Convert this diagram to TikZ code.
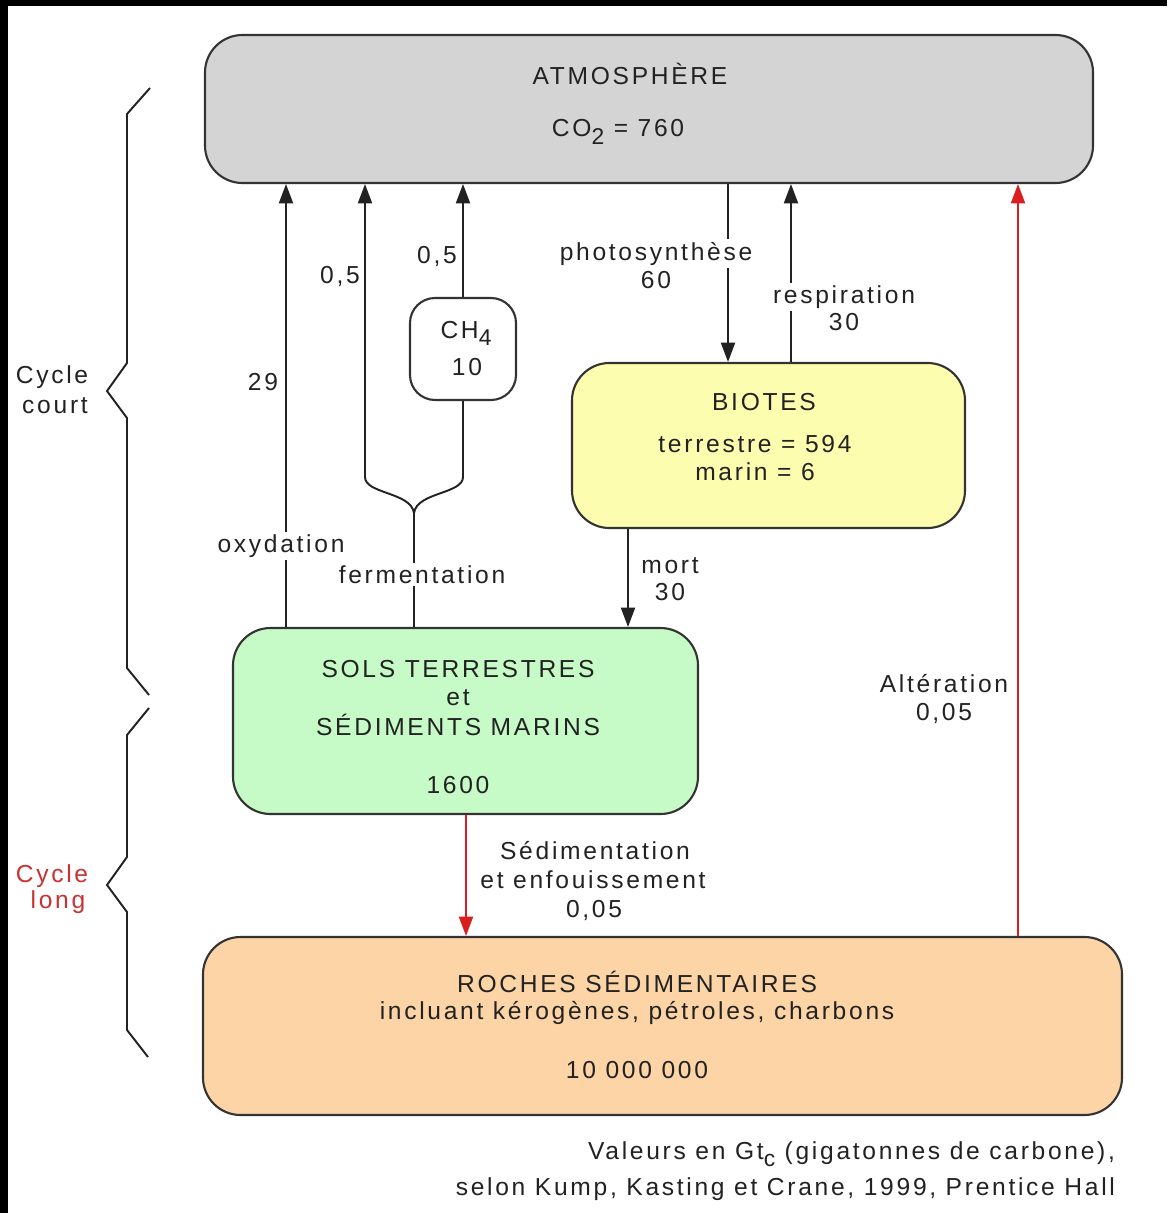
\documentclass[tikz,border=0pt]{standalone}
\usepackage{fontspec}
\setmainfont{Liberation Sans}[LetterSpace=11]
\usetikzlibrary{arrows.meta}

\definecolor{ink}{HTML}{222222}
\definecolor{edge}{HTML}{333333}
\definecolor{atmfill}{HTML}{D4D4D4}
\definecolor{biofill}{HTML}{FDFDB0}
\definecolor{solfill}{HTML}{C6FAC6}
\definecolor{rocfill}{HTML}{FCD4A6}
\definecolor{longred}{HTML}{D81E1E}
\definecolor{labred}{HTML}{C83232}

\newcommand\txtsize{\fontsize{14}{16}\selectfont}
\newcommand\lowsub[1]{\raisebox{-0.6ex}{\fontsize{13}{14}\selectfont #1}}

\begin{document}
\begin{tikzpicture}[x=0.02cm, y=-0.02cm,
  reservoir/.style={draw=edge, line width=1.2pt, rounded corners=0.75cm, inner sep=0pt},
  flow/.style={draw=ink, line width=1.1pt},
  redflow/.style={draw=longred, line width=1.1pt},
  tip/.style={-{Triangle[length=11pt,width=8pt]}},
  lbl/.style={anchor=base, fill=white, inner sep=1.5pt, text=ink, font=\txtsize},
  inbox/.style={anchor=base, inner sep=0pt, text=ink, font=\txtsize},
  bracket/.style={draw=ink, line width=1.1pt, line join=miter}]

% canvas and dark frame edges
\useasboundingbox (0,0) rectangle (1167,1213);
\fill[white] (0,0) rectangle (1167,1213);
\fill[black] (0,0) rectangle (1167,6);
\fill[black] (0,0) rectangle (8,1213);

% reservoirs
\node[reservoir, fill=atmfill, minimum width=888*0.02cm, minimum height=148*0.02cm] (atm) at (649,109) {};
\node[reservoir, fill=white, rounded corners=0.5cm, minimum width=106*0.02cm, minimum height=102*0.02cm] (ch4) at (463,349) {};
\node[reservoir, fill=biofill, minimum width=393*0.02cm, minimum height=165*0.02cm] (bio) at (768.5,445.5) {};
\node[reservoir, fill=solfill, minimum width=465*0.02cm, minimum height=186*0.02cm] (sols) at (465.5,721) {};
\node[reservoir, fill=rocfill, minimum width=919*0.02cm, minimum height=178*0.02cm] (roch) at (662.5,1026) {};

% columns of the fluxes
\coordinate (xox) at (286,0);
\coordinate (xfe) at (414,0);
\coordinate (xph) at (728,0);
\coordinate (xre) at (791,0);
\coordinate (xmo) at (628,0);
\coordinate (xse) at (466,0);
\coordinate (xal) at (1018,0);
\coordinate (fork) at (414,513);
\coordinate (forkL) at (365,477);
\coordinate (forkR) at (463,477);

% short cycle fluxes
\draw[flow, tip] (sols.north -| xox) -- (atm.south -| xox);
\draw[flow] (sols.north -| xfe) -- (fork);
\draw[flow, tip] (fork) .. controls (411,492) and (365,494) .. (forkL) -- (atm.south -| forkL);
\draw[flow] (fork) .. controls (417,492) and (463,494) .. (forkR) -- (ch4.south);
\draw[flow, tip] (ch4.north) -- (atm.south -| ch4.north);
\draw[flow, tip] (atm.south -| xph) -- (bio.north -| xph);
\draw[flow, tip] (bio.north -| xre) -- (atm.south -| xre);
\draw[flow, tip] (bio.south -| xmo) -- (sols.north -| xmo);

% long cycle fluxes
\draw[redflow, tip] (sols.south -| xse) -- (roch.north -| xse);
\draw[redflow, tip] (roch.north -| xal) -- (atm.south -| xal);

% brackets on the left
\draw[bracket] (150,88) -- (127,114) -- (127,363) -- (107,391) -- (127,418) -- (127,668) -- (149,695);
\draw[bracket] (149,708) -- (127,735) -- (127,857) -- (107,885) -- (127,912) -- (127,1030) -- (148,1057);
\node[inbox] (cyc1) at (52,383) {Cycle};
\node[inbox] (cyc2) at (55,413) {court};
\node[inbox, text=labred] (cyl1) at (52,882) {Cycle};
\node[inbox, text=labred] (cyl2) at (58,908) {long};

% texts inside the reservoirs
\node[inbox] (atmt) at (630,85) {ATMOSPHÈRE};
\node[inbox] (atmv) at (618,137) {CO\lowsub{2} = 760};
\node[inbox] (ch4t) at (466,338) {CH\lowsub{4}};
\node[inbox] (ch4v) at (467,375) {10};
\node[inbox] (biot) at (764,410) {BIOTES};
\node[inbox] (bio1) at (755,452) {terrestre = 594};
\node[inbox] (bio2) at (755,480) {marin = 6};
\node[inbox] (sol1) at (458,677) {SOLS TERRESTRES};
\node[inbox] (sol2) at (458,705) {et};
\node[inbox] (sol3) at (458,735) {SÉDIMENTS MARINS};
\node[inbox] (solv) at (458,793) {1600};
\node[inbox] (roc1) at (637,992) {ROCHES SÉDIMENTAIRES};
\node[inbox] (roc2) at (637,1019) {incluant kérogènes, pétroles, charbons};
\node[inbox] (rocv) at (637,1078) {10 000 000};

% flux labels
\node[lbl] (v29) at (263,390) {29};
\node[lbl] (vfl) at (340,283) {0,5};
\node[lbl] (vfr) at (437,263) {0,5};
\node[lbl] (oxy) at (281,552) {oxydation};
\node[lbl] (fer) at (422,583) {fermentation};
\node[lbl] (pho) at (656,260) {photosynthèse};
\node[lbl] (phv) at (656,288) {60};
\node[lbl] (res) at (844,303) {respiration};
\node[lbl] (rev) at (844,330) {30};
\node[lbl] (mor) at (670,573) {mort};
\node[lbl] (mov) at (670,600) {30};
\node[lbl] (alt) at (944,692) {Altération};
\node[lbl] (alv) at (944,720) {0,05};
\node[lbl] (sed1) at (595,859) {Sédimentation};
\node[lbl] (sed2) at (593,888) {et enfouissement};
\node[lbl] (sedv) at (594,917) {0,05};

% source note
\node[lbl, anchor=base east] (note1) at (1118,1159) {Valeurs en Gt\lowsub{c} (gigatonnes de carbone),};
\node[lbl, anchor=base east] (note2) at (1118,1195) {selon Kump, Kasting et Crane, 1999, Prentice Hall};
\end{tikzpicture}
\end{document}
